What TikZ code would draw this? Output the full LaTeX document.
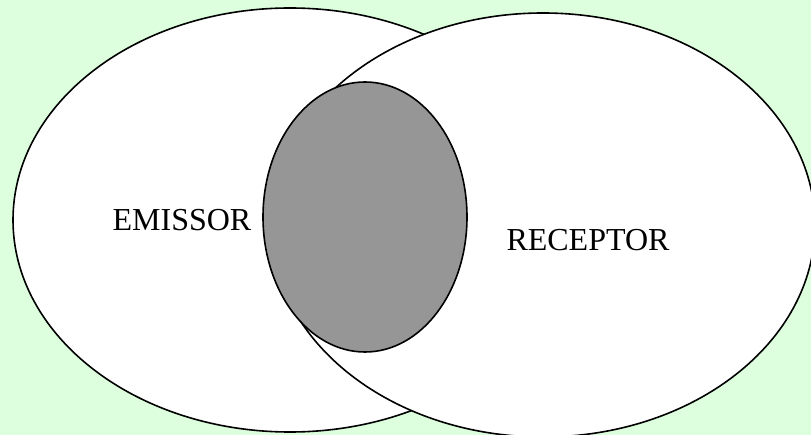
\documentclass[tikz,border=0pt]{standalone}
\usepackage{fontspec}
\setmainfont{Liberation Serif}
\usetikzlibrary{shapes.geometric}
\definecolor{bggreen}{RGB}{221,255,221}
\definecolor{midgray}{RGB}{150,150,150}
\tikzset{area/.style={ellipse,draw,fill=white,line width=1.6pt,inner sep=0pt},tag/.style={font=\fontsize{32}{38}\selectfont,inner sep=0pt}}

\begin{document}
\begin{tikzpicture}[x=1pt,y=-1pt]
\fill[bggreen] (0,0) rectangle (811,435);
\clip (0,0) rectangle (811,435);
\node[area, minimum width=554pt, minimum height=424pt] (emissor) at (290,220) {};
\node[area, minimum width=544pt, minimum height=424pt] (receptor) at (543,225) {};
\node[area, fill=midgray, minimum width=204pt, minimum height=270pt] (common) at (365,217) {};
\node[tag] (e) at (182,220) {EMISSOR};
\node[tag] (r) at (588,240) {RECEPTOR};
\end{tikzpicture}
\end{document}
